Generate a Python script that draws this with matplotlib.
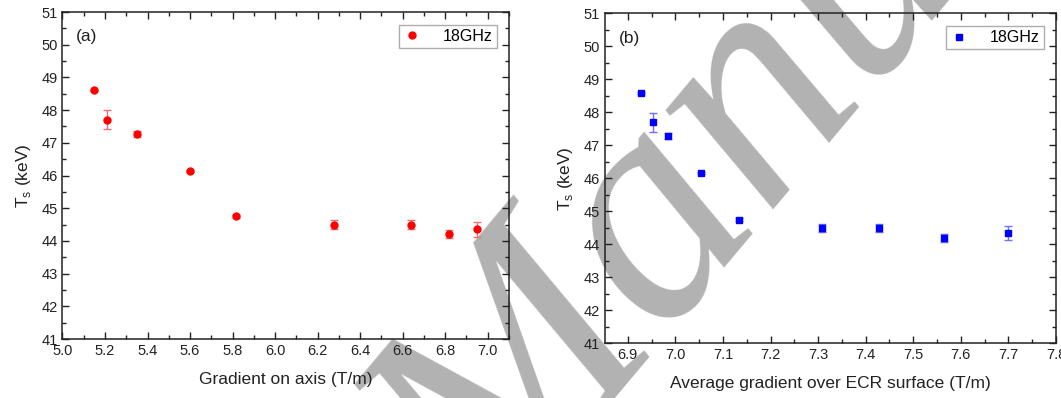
import matplotlib
matplotlib.use("Agg")
import matplotlib.pyplot as plt
from matplotlib.ticker import MultipleLocator
from matplotlib.lines import Line2D

plt.rcParams['font.family'] = ['Liberation Sans', 'DejaVu Sans']

# (a) Gradient on axis
grad_axis = [5.15, 5.21, 5.35, 5.60, 5.815, 6.275, 6.64, 6.82, 6.95]
# (b) Average gradient over ECR surface
grad_ecr = [6.928, 6.953, 6.985, 7.053, 7.133, 7.308, 7.428, 7.565, 7.699]
# Ts values (keV) and errors
ts = [48.6, 47.7, 47.28, 46.15, 44.75, 44.5, 44.5, 44.2, 44.35]
ts_err = [0.03, 0.29, 0.09, 0.03, 0.04, 0.13, 0.13, 0.12, 0.22]

INK = '#222222'
fig = plt.figure(figsize=(10.61, 3.98), dpi=100)
fig.patch.set_facecolor('white')

axA = fig.add_axes([0.0589, 0.1482, 0.4208, 0.8216])
axB = fig.add_axes([0.5702, 0.1374, 0.4251, 0.8289])

def style(ax):
    ax.set_facecolor('none')
    ax.set_ylim(41, 51)
    ax.yaxis.set_major_locator(MultipleLocator(1))
    ax.yaxis.set_minor_locator(MultipleLocator(0.5))
    ax.tick_params(which='both', direction='in', top=True, right=True,
                   labelsize=10.5, width=1.0, colors=INK, labelcolor=INK)
    ax.tick_params(which='major', length=5)
    ax.tick_params(which='minor', length=3)
    for s in ax.spines.values():
        s.set_linewidth(1.1)
        s.set_color(INK)
    ax.set_ylabel('T$_\\mathregular{s}$ (keV)', fontsize=12.5, color=INK, labelpad=6)

# Panel (a)
axA.errorbar(grad_axis, ts, yerr=ts_err, fmt='o', color='#ff0000', ms=5,
             ecolor='#f07070', elinewidth=1, capsize=3, capthick=1, zorder=3)
axA.set_xlim(5.0, 7.1)
axA.xaxis.set_major_locator(MultipleLocator(0.2))
axA.xaxis.set_minor_locator(MultipleLocator(0.1))
style(axA)
axA.set_xlabel('Gradient on axis (T/m)', fontsize=12.5, color=INK, labelpad=10)
axA.text(0.03, 0.925, '(a)', transform=axA.transAxes, fontsize=12.5, va='center', color=INK)

# Panel (b)
axB.errorbar(grad_ecr, ts, yerr=ts_err, fmt='s', color='#0000ff', ms=4.5,
             ecolor='#7070ff', elinewidth=1, capsize=3, capthick=1, zorder=3)
axB.set_xlim(6.852, 7.8)
axB.xaxis.set_major_locator(MultipleLocator(0.1))
axB.xaxis.set_minor_locator(MultipleLocator(0.05))
style(axB)
axB.set_xlabel('Average gradient over ECR surface (T/m)', fontsize=12.5, color=INK, labelpad=10)
axB.text(0.03, 0.925, '(b)', transform=axB.transAxes, fontsize=12.5, va='center', color=INK)

handles = [Line2D([], [], ls='none', marker='o', color='#ff0000', ms=5),
           Line2D([], [], ls='none', marker='s', color='#0000ff', ms=4.5)]
for ax, h in zip((axA, axB), handles):
    leg = ax.legend([h], ['18GHz'], loc='upper right', fontsize=11.5, frameon=True,
                    fancybox=False, handlelength=1.2, handletextpad=1.3, borderpad=0.25,
                    bbox_to_anchor=(0.99, 0.985), numpoints=1)
    leg.get_frame().set_edgecolor('#999999')
    leg.get_frame().set_linewidth(1.0)

# watermark (partially visible "Manuscript")
fig.text(495 / 1061, -148 / 398, 'Manuscript', rotation=50, rotation_mode='anchor',
         fontsize=230, family='Liberation Serif', style='italic', color='#b2b2b2',
         zorder=-1, ha='left', va='baseline')

fig.savefig('out.png', dpi=100, facecolor='white')
